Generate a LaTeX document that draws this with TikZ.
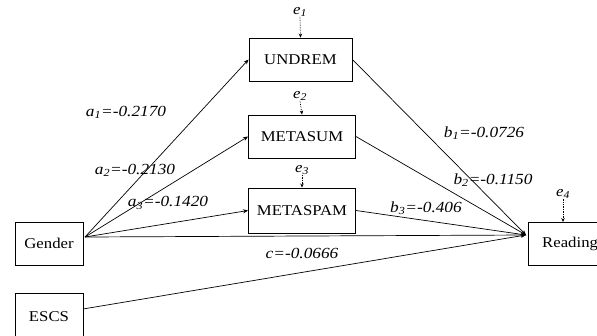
\documentclass[tikz,border=0pt]{standalone}
\usepackage{fontspec}
\setmainfont{Liberation Serif}[FakeStretch=1.12]
\usetikzlibrary{arrows.meta}
\newcommand{\lbl}[2]{#1\textsubscript{#2}}
\begin{document}
\begin{tikzpicture}[x=1bp,y=-1bp,
  box/.style={draw, line width=0.9pt, minimum height=43bp, inner sep=0pt, font=\fontsize{15}{17}\selectfont},
  arr/.style={line width=0.7pt, -{Stealth[length=5bp,width=4bp]}},
  err/.style={densely dotted, line width=0.7pt, -{Stealth[length=4bp,width=3.5bp]}},
  lab/.style={font=\fontsize{15.5}{17}\selectfont\itshape, inner sep=0pt},
  elab/.style={font=\fontsize{15}{17}\selectfont\itshape, inner sep=0pt}]
\useasboundingbox (0,0) rectangle (597,335);
% boxes
\node[box, minimum width=103bp] (undrem) at (300.5,59.5) {UNDREM};
\node[box, minimum width=107bp] (metasum) at (302,136.5) {METASUM};
\node[box, minimum width=107bp, minimum height=45bp] (metaspam) at (302,210.5) {METASPAM};
\node[box, minimum width=68bp] (gender) at (49,243.5) {Gender};
\node[box, minimum width=68bp, minimum height=50bp, anchor=north] (escs) at (49,293) {};
\node[font=\fontsize{15}{17}\selectfont] (escst) at (49,317) {ESCS};
\node[box, minimum width=74bp, anchor=north west] (reading) at (528,222) {};
\node[font=\fontsize{15}{17}\selectfont, anchor=west, inner sep=0pt] (readt) at (542,244) {Reading};
% connection points
\coordinate (gs) at (85,237);
\coordinate (rd) at (526,235);
\coordinate (es) at (83,309);
% paths a
\draw[arr] (gs) -- (undrem.west);
\draw[arr] (gs) -- (metasum.west);
\draw[arr] (gs) -- (metaspam.west);
% paths b
\draw[arr] (undrem.east) -- (rd);
\draw[arr] (metasum.east) -- (rd);
\draw[arr] (metaspam.east) -- (rd);
% direct
\draw[arr] (gs) -- (rd);
\draw[arr] (es) -- (rd);
% errors
\node[elab] (e1) at (300,12) {\lbl{e}{1}};
\node[elab] (e2) at (300,96) {\lbl{e}{2}};
\node[elab] (e3) at (302,170) {\lbl{e}{3}};
\node[elab] (e4) at (563,194) {\lbl{e}{4}};
\draw[err] (e1.south) -- (undrem.north);
\draw[err] (e2.south) -- (metasum.north);
\draw[err] (e3.south) -- (metaspam.north);
\draw[err] (e4.south) -- (e4.south |- reading.north);
% labels
\node[lab] (la1) at (126,112) {\lbl{a}{1}=-0.2170};
\node[lab] (la2) at (135,170) {\lbl{a}{2}=-0.2130};
\node[lab] (la3) at (168,203) {\lbl{a}{3}=-0.1420};
\node[lab] (lb1) at (484,133) {\lbl{b}{1}=-0.0726};
\node[lab] (lb2) at (493,180) {\lbl{b}{2}=-0.1150};
\node[lab] (lb3) at (426,208) {\lbl{b}{3}=-0.406};
\node[lab] (lc) at (302,253) {c=-0.0666};
\end{tikzpicture}
\end{document}
